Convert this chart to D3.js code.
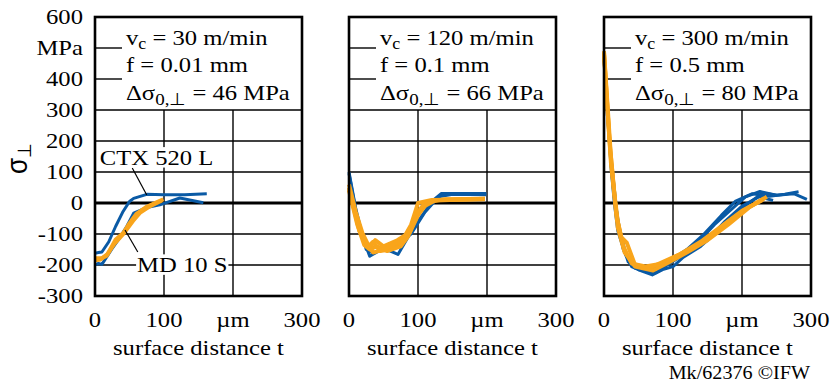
<!DOCTYPE html>
<html>
<head>
<meta charset="utf-8">
<script src="https://cdn.jsdelivr.net/npm/d3@7"></script>
<style>
  body { margin: 0; background: #fff; }
</style>
</head>
<body>
<div id="chart"></div>
<script>
// axis values
const tTicks = [0, 100, 200, 300];
const tLabels = ["0", "100", "µm", "300"];
const sigmaTicks = [600, 500, 400, 300, 200, 100, 0, -100, -200, -300];
const sigmaLabels = ["600", "MPa", "400", "300", "200", "100", "0", "-100", "-200", "-300"];
const gridSigma = [300, 200, 100, -100, -200];
const notchSigma = [500, 400];

// cutting conditions per panel
const cuttingSpeed = ["30", "120", "300"];
const feed = ["0.01", "0.1", "0.5"];
const deltaSigma0 = ["46", "66", "80"];

// residual stress profiles [t (µm), sigma (MPa)]
// CTX 520 L = blue, MD 10 S = orange
const ctx30 = [
  [[0, -162], [5, -160], [10, -158], [20, -125], [30, -75], [40, -30], [50, 5], [56, 15], [75, 28], [100, 27], [130, 27], [162, 30]],
  [[0, -200], [5, -195], [10, -198], [24, -150], [35, -115], [46, -76], [56, -33], [75, -15], [94, -6], [123, 16], [157, 1]]
];
const md30 = [
  [[0, -178], [10, -178], [17, -170], [30, -118], [41, -97], [50, -65], [60, -35], [75, -12], [90, 3], [99, 12]],
  [[0, -185], [8, -182], [18, -165], [28, -132], [42, -97], [55, -58], [65, -32], [80, -10], [97, 8]]
];
const ctx120 = [
  [[0, 100], [10, -20], [20, -110], [30, -172], [45, -152], [60, -155], [71, -166], [85, -112], [100, -60], [120, 5], [134, 31], [199, 31]],
  [[0, 95], [12, -50], [25, -150], [35, -162], [50, -146], [70, -132], [90, -100], [110, -30], [130, 20], [150, 28], [199, 27]]
];
const md120 = [
  [[0, 50], [10, -40], [20, -110], [28, -140], [35, -125], [45, -155], [60, -150], [75, -130], [90, -70], [100, 0], [120, 10], [197, 13]],
  [[0, 40], [12, -70], [22, -135], [30, -150], [40, -140], [55, -155], [75, -140], [85, -110], [100, -40], [115, 5], [140, 12], [197, 14]],
  [[0, 60], [10, -30], [20, -100], [30, -145], [38, -120], [50, -140], [70, -120], [88, -95], [100, -30], [110, 0], [130, 10], [197, 12]],
  [[0, 45], [15, -90], [25, -130], [35, -160], [50, -150], [65, -135], [80, -110], [95, -60], [105, -15], [125, 8], [197, 14]]
];
const ctx300 = [
  [[0, 480], [5, 300], [10, 120], [15, 0], [20, -90], [30, -160], [40, -205], [55, -220], [70, -232], [85, -215], [100, -205], [115, -175], [140, -140], [165, -90], [190, -40], [210, 0], [230, 32], [250, 25], [275, 30], [294, 12]],
  [[0, 470], [5, 280], [12, 80], [18, -40], [28, -150], [40, -200], [60, -215], [80, -210], [100, -180], [120, -150], [145, -100], [170, -40], [190, 5], [215, 30], [240, 22], [262, 28], [282, 36]],
  [[0, 460], [8, 200], [15, 20], [25, -120], [35, -190], [50, -215], [75, -225], [95, -195], [120, -160], [150, -120], [175, -60], [200, -10], [225, 20], [245, 8]],
  [[0, 475], [10, 150], [20, -60], [32, -170], [45, -210], [65, -220], [90, -200], [110, -170], [135, -130], [160, -70], [185, -20], [205, 20], [226, 37], [250, 25]]
];
const md300 = [
  [[0, 490], [5, 320], [10, 150], [15, 30], [20, -60], [25, -110], [33, -128], [45, -200], [65, -212], [80, -195], [100, -175], [130, -145], [160, -100], [180, -60], [205, -20], [232, 15]],
  [[0, 480], [10, 130], [20, -80], [30, -160], [45, -205], [71, -218], [95, -190], [120, -160], [150, -120], [180, -70], [210, -15], [236, 20]],
  [[0, 485], [8, 200], [18, -40], [28, -140], [40, -195], [60, -205], [85, -195], [110, -165], [140, -125], [170, -75], [200, -25], [230, 10]]
];

const ctxSeries = [ctx30, ctx120, ctx300];
const mdSeries = [md30, md120, md300];

// layout
const width = 832, height = 384;
const panelLeft = [95, 349, 604];
const panelWidth = 207;
const plotTop = 17, plotBottom = 296;
const stretch = 1.12;          // text in the original is widened
const serif = "'Liberation Serif', 'Times New Roman', serif";
const colorCtx = "#0a5aa5";
const colorMd = "#f9a51b";

const svg = d3.select("#chart").append("svg")
  .attr("width", width)
  .attr("height", height)
  .style("background", "#fff");

const y = d3.scaleLinear().domain([-300, 600]).range([plotBottom, plotTop]);

function label(g, x, yy, str, size, anchor) {
  return g.append("text")
    .attr("transform", `translate(${x},${yy}) scale(${stretch},1)`)
    .attr("font-family", serif)
    .attr("font-size", size)
    .attr("text-anchor", anchor || "start")
    .attr("fill", "#000")
    .text(str);
}

panelLeft.forEach((x0, i) => {
  const x = d3.scaleLinear().domain([0, 300]).range([x0, x0 + panelWidth]);
  const g = svg.append("g");

  // grid
  g.selectAll(".hgrid").data(gridSigma).enter().append("line")
    .attr("x1", x(0)).attr("x2", x(300))
    .attr("y1", d => y(d)).attr("y2", d => y(d))
    .attr("stroke", "#000").attr("stroke-width", 1.4);
  g.selectAll(".vgrid").data([100, 200]).enter().append("line")
    .attr("x1", d => x(d)).attr("x2", d => x(d))
    .attr("y1", y(300)).attr("y2", y(-300))
    .attr("stroke", "#000").attr("stroke-width", 1.4);
  g.selectAll(".notch").data(notchSigma).enter().append("line")
    .attr("x1", x(0)).attr("x2", x(0) + 27)
    .attr("y1", d => y(d)).attr("y2", d => y(d))
    .attr("stroke", "#000").attr("stroke-width", 1.4);

  // zero line
  g.append("line")
    .attr("x1", x(0)).attr("x2", x(300))
    .attr("y1", y(0)).attr("y2", y(0))
    .attr("stroke", "#000").attr("stroke-width", 3.2);

  // profiles
  const line = d3.line().x(d => x(d[0])).y(d => y(d[1]));
  g.selectAll(".ctx").data(ctxSeries[i]).enter().append("path")
    .attr("d", line)
    .attr("fill", "none")
    .attr("stroke", colorCtx)
    .attr("stroke-width", 3)
    .attr("stroke-linejoin", "round");
  g.selectAll(".md").data(mdSeries[i]).enter().append("path")
    .attr("d", line)
    .attr("fill", "none")
    .attr("stroke", colorMd)
    .attr("stroke-width", 4)
    .attr("stroke-linejoin", "round");

  // frame
  g.append("rect")
    .attr("x", x(0)).attr("y", y(600))
    .attr("width", panelWidth).attr("height", y(-300) - y(600))
    .attr("fill", "none")
    .attr("stroke", "#000").attr("stroke-width", 2.6);

  // conditions box
  const tx = x(0) + 31;
  const v = label(g, tx, 45, "v", 22);
  v.append("tspan").attr("font-size", 16).attr("dy", 4).text("c");
  v.append("tspan").attr("dy", -4).text(` = ${cuttingSpeed[i]} m/min`);
  label(g, tx, 72, `f = ${feed[i]} mm`, 22);
  const ds = label(g, tx, 100, "Δσ", 22);
  ds.append("tspan").attr("font-size", 17).attr("dy", 5).text("0,⊥");
  ds.append("tspan").attr("dy", -5).text(` = ${deltaSigma0[i]} MPa`);

  // x axis
  tTicks.forEach((t, k) => label(g, x(t), 327, tLabels[k], 22, "middle"));
  label(g, x(150), 355, "surface distance t", 22, "middle");

  if (i === 0) {
    sigmaTicks.forEach((s, k) => label(g, 83, y(s) + 7, sigmaLabels[k], 22, "end"));

    // series annotations
    g.append("line")
      .attr("x1", x(54)).attr("y1", y(113))
      .attr("x2", x(75)).attr("y2", y(26))
      .attr("stroke", "#000").attr("stroke-width", 1.2);
    g.append("line")
      .attr("x1", x(62)).attr("y1", y(-158))
      .attr("x2", x(43.5)).attr("y2", y(-87))
      .attr("stroke", "#000").attr("stroke-width", 1.2);

    [["CTX 520 L", 7, 123], ["MD 10 S", 61, -223]].forEach(([name, t, s]) => {
      const bg = g.append("rect").attr("fill", "#fff");
      const lt = label(g, x(t), y(s), name, 22);
      const bb = lt.node().getBBox();
      bg.attr("x", x(t) - 1).attr("y", y(s) + bb.y + 2)
        .attr("width", bb.width * stretch + 2).attr("height", bb.height - 4);
    });
  }
});

// y axis title
const yt = svg.append("text")
  .attr("transform", `translate(27,174) scale(${stretch},1) rotate(-90)`)
  .attr("font-family", "'Liberation Sans', Arial, sans-serif")
  .attr("font-size", 26)
  .text("σ");
yt.append("tspan").attr("font-size", 17).attr("dy", 4).text("⊥");

label(svg, 810, 379, "Mk/62376 ©IFW", 18, "end");
</script>
</body>
</html>
